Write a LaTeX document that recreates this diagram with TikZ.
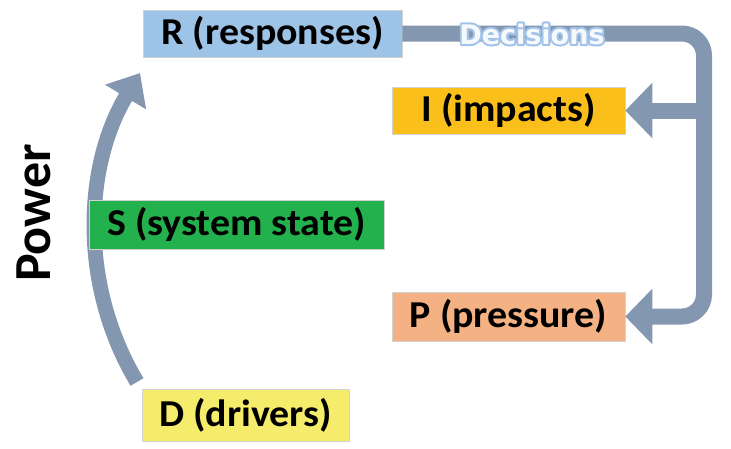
\documentclass[tikz,border=0pt]{standalone}
\usepackage{fontspec}
\setmainfont{Carlito}
\newfontfamily\boxfont{Carlito}[FakeStretch=1.05]
\newfontfamily\decfont{DejaVu Sans}
\usetikzlibrary{arrows.meta,calc}
\definecolor{flowc}{HTML}{8497B0}
\definecolor{rc}{HTML}{9DC3E6}
\definecolor{ic}{HTML}{FABF1A}
\definecolor{sc}{HTML}{22B14C}
\definecolor{pc}{HTML}{F4B183}
\definecolor{dc}{HTML}{F6EC6C}
\definecolor{decfill}{HTML}{F7FAFD}
\begin{document}
\begin{tikzpicture}[x=1pt,y=-1pt,
  box/.style={draw=black!18, line width=0.6pt, inner sep=0pt, text=black,
    font=\boxfont\fontsize{38}{42}\selectfont\bfseries},
  flow/.style={draw=flowc, line width=16pt, -{Triangle[length=27pt,width=54pt]},
    rounded corners=22pt},
  power/.style={draw=flowc, line width=15pt, -{Triangle[length=28pt,width=46pt]}},
  declab/.style={font=\decfont\fontsize{27}{32}\selectfont\bfseries, inner sep=0pt, text=decfill},
]
\useasboundingbox (0,0) rectangle (731,448);
% power arc (behind the boxes)
\coordinate (pb) at (137,382);
\coordinate (pt) at (140,73);
\draw[power] (pb) .. controls (80,287) and (83,168) .. (pt);
% boxes
\node[box, fill=rc, minimum width=259pt, minimum height=47pt] (R) at (272.5,33.5) {R (responses)};
\node[box, fill=ic, minimum width=233pt, minimum height=47pt] (I) at (508.5,110.5) {I (impacts)};
\node[box, fill=sc, minimum width=295pt, minimum height=49pt] (S) at (236.5,224.5) {S (system state)};
\node[box, fill=pc, minimum width=233pt, minimum height=49pt] (P) at (508.5,316.5) {P (pressure)};
\node[box, fill=dc, minimum width=207pt, minimum height=52pt] (D) at (245.5,415) {D (drivers)};
% decisions flow
\coordinate (c) at (704,34);
\draw[flow] (R.east) -- (R.east -| c) |- (P.east);
\draw[flow, rounded corners=0pt] (c |- I.east) -- (I.east);
% decisions label: light fill with a blue outline outside the letters
\node[declab] (dec) at (532,34) {\rlap{\special{pdf:literal direct 1 Tr 4.2 w 1 j 0.64 0.77 0.91 RG}Decisions\special{pdf:literal direct 0 Tr 1 w 0 j}}Decisions};
\node[rotate=90, font=\fontsize{52}{56}\selectfont\bfseries, inner sep=0pt] (pow) at (34,213) {Power};
\end{tikzpicture}
\end{document}
